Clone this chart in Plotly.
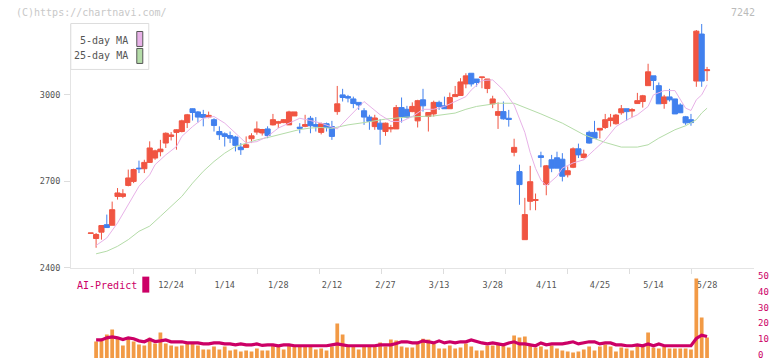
import plotly.graph_objects as go

# ---------------- data ----------------
candle_idx = list(range(-1, 115))
opens = [2520, 2502, 2524, 2550, 2548, 2648, 2648, 2686, 2700, 2746, 2744, 2766, 2781, 2803, 2833, 2856,
         2870, 2873, 2904, 2952, 2941, 2932, 2923, 2914, 2873, 2865, 2859, 2854, 2819, 2818, 2848,
         2871, 2868, 2882, 2896, 2902, 2904, 2896, 2927, 2888, 2891, 2919, 2897, 2870, 2900, 2890,
         2942, 3000, 2994, 2986, 2974, 2945, 2923, 2890, 2902, 2873, 2882, 2882, 2956, 2950, 2942,
         2910, 2983, 2925, 2934, 2974, 2962, 2952, 2994, 2998, 3038, 3075, 3055, 3060, 3022, 2969,
         2929, 2942, 2919, 2801, 2734, 2498, 2631, 2634, 2789, 2689, 2775, 2782, 2777, 2723, 2749,
         2813, 2783, 2870, 2870, 2878, 2887, 2911, 2900, 2938, 2952, 2944, 2970, 2977, 3032, 3066,
         3032, 2970, 2993, 2986, 2965, 2924, 2914, 3048, 3211, 3084]
highs = [2521, 2521, 2547, 2585, 2630, 2677, 2673, 2741, 2744, 2772, 2775, 2839, 2810, 2844, 2870, 2871,
         2881, 2914, 2934, 2953, 2944, 2948, 2942, 2919, 2891, 2870, 2873, 2858, 2833, 2856, 2867,
         2908, 2882, 2891, 2934, 2910, 2916, 2945, 2941, 2902, 2931, 2927, 2923, 2904, 2904, 2910,
         3031, 3021, 3000, 2994, 2974, 2954, 2931, 2931, 2916, 2904, 2896, 2965, 2991, 2962, 2974,
         2983, 3021, 2939, 2980, 2980, 2994, 3008, 3031, 3058, 3075, 3075, 3055, 3062, 3055, 2997,
         2974, 2977, 2948, 2848, 2758, 2643, 2754, 2658, 2803, 2757, 2792, 2803, 2798, 2752, 2818,
         2831, 2810, 2876, 2910, 2884, 2934, 2934, 2934, 2965, 2952, 2954, 3007, 3000, 3108, 3066,
         3043, 3000, 3021, 2986, 2971, 2927, 2934, 3225, 3246, 3097]
lows = [2520, 2470, 2498, 2539, 2548, 2637, 2642, 2683, 2694, 2729, 2729, 2764, 2775, 2787, 2816, 2842,
        2810, 2870, 2885, 2911, 2904, 2891, 2919, 2873, 2844, 2821, 2833, 2804, 2792, 2816, 2833,
        2862, 2859, 2850, 2894, 2885, 2902, 2896, 2927, 2867, 2888, 2867, 2873, 2863, 2873, 2844,
        2931, 2977, 2974, 2954, 2948, 2896, 2879, 2879, 2827, 2858, 2870, 2882, 2904, 2919, 2940,
        2887, 2942, 2873, 2925, 2948, 2952, 2952, 2994, 2998, 3023, 3029, 3029, 3023, 3006, 2954,
        2882, 2914, 2890, 2787, 2619, 2498, 2600, 2600, 2749, 2652, 2732, 2746, 2700, 2714, 2746,
        2781, 2780, 2831, 2848, 2849, 2882, 2890, 2897, 2931, 2911, 2922, 2970, 2956, 3032, 3017,
        2969, 2952, 2977, 2934, 2937, 2896, 2893, 3028, 3028, 3048]
closes = [2521, 2516, 2547, 2540, 2602, 2660, 2657, 2712, 2741, 2744, 2766, 2816, 2806, 2812, 2867, 2861,
          2879, 2910, 2931, 2939, 2923, 2922, 2929, 2894, 2862, 2856, 2850, 2825, 2810, 2827, 2858,
          2882, 2880, 2859, 2914, 2907, 2914, 2941, 2941, 2884, 2897, 2893, 2891, 2900, 2887, 2856,
          2969, 2991, 2989, 2970, 2965, 2923, 2908, 2920, 2881, 2902, 2887, 2956, 2925, 2922, 2960,
          2980, 2962, 2939, 2974, 2960, 2952, 2991, 3001, 3045, 3066, 3038, 3043, 3062, 3055, 2986,
          2942, 2917, 2915, 2818, 2689, 2585, 2699, 2637, 2783, 2754, 2746, 2746, 2718, 2737, 2813,
          2792, 2795, 2833, 2850, 2884, 2914, 2920, 2930, 2952, 2942, 2949, 2980, 2997, 3080, 3050,
          2969, 2993, 2983, 2934, 2938, 2903, 2904, 3221, 3048, 3087]

bar_idx = list(range(0, 115))
volume = [10.4, 11.4, 14.8, 17.9, 12.0, 7.9, 13.1, 10.4, 8.5, 7.9, 12.7, 9.1, 16.0, 9.1, 7.9, 7.2, 7.9,
          8.9, 8.9, 7.9, 5.3, 5.3, 7.2, 5.3, 7.2, 4.7, 5.3, 4.1, 4.7,
          4.1, 6.0, 4.7, 4.7, 7.9, 7.2, 5.3, 7.9, 7.2, 7.2, 7.2, 7.2, 5.3, 6.0, 4.7, 7.2, 21.7, 14.8,
          7.2, 7.2, 5.3, 7.2, 7.2, 7.2, 9.7, 7.2, 11.6, 11.0,
          7.2, 6.6, 6.6, 9.1, 12.2, 11.6, 9.1, 6.0, 6.0, 7.9, 6.0, 6.6, 9.1, 7.2, 4.7, 4.7, 7.9, 7.9,
          9.1, 7.9, 6.6, 14.2, 12.9, 13.5, 7.9, 6.6, 7.2, 5.3, 7.9,
          6.0, 4.7, 4.1, 3.5, 4.1, 5.3, 7.2, 4.7, 7.2, 8.5, 7.2, 4.1, 6.6, 6.0, 4.7, 7.9, 7.2, 16.0,
          6.6, 6.0, 7.2, 6.0, 6.0, 6.0, 6.0, 5.3, 50.0, 25.5, 12.9]
ai_predict = [11.4, 11.4, 12.7, 13.3, 12.7, 11.6, 12.7, 12.1, 10.8, 10.2, 11.8, 10.4, 10.8, 11.4, 10.2,
              10.2, 10.2, 9.5, 9.5, 9.5, 8.9, 8.9, 9.5, 9.5, 8.9, 8.9, 8.3, 8.9, 8.3,
              8.3, 8.9, 7.9, 8.3, 8.3, 7.7, 8.3, 8.3, 7.7, 7.7, 7.7, 7.7, 7.7, 7.7, 7.7, 8.3, 8.9, 8.3,
              7.7, 7.7, 7.7, 7.7, 7.7, 7.7, 8.3, 8.3, 8.3, 9.1,
              10.2, 10.2, 9.5, 9.5, 10.8, 10.2, 9.5, 10.8, 9.5, 10.2, 9.5, 10.2, 10.2, 11.4, 10.2, 9.5,
              8.9, 9.5, 8.9, 8.3, 9.5, 10.2, 8.9, 8.9, 8.3, 7.7, 9.5, 8.3, 8.9,
              8.9, 8.9, 9.5, 10.2, 8.9, 9.5, 10.2, 10.2, 8.9, 9.5, 9.5, 8.3, 8.3, 7.7, 7.7, 8.3, 7.7,
              8.9, 7.7, 8.9, 7.7, 7.7, 7.7, 7.7, 7.7, 7.7, 12.3, 14.4, 13.5]

ma5_idx = [0, 2, 4, 6, 8, 10, 11, 13, 15, 16, 18, 20, 22, 24, 26, 28, 30, 32, 34, 36, 38, 40, 42, 45,
           47, 50, 53, 55, 57, 59, 61, 63, 65, 67, 69, 70, 72, 74, 76, 78, 79, 80, 81, 82, 83, 84, 86,
           87, 89, 91, 93, 95, 97, 99, 101, 103, 104, 106, 108, 109, 110, 111, 112, 113, 114]
ma5 = [2478, 2504, 2556, 2619, 2683, 2723, 2758, 2792, 2821, 2856, 2890, 2919, 2925, 2902, 2867, 2833,
       2838, 2856, 2885, 2902, 2919, 2911, 2902, 2882, 2919, 2977, 2931, 2908, 2908, 2925, 2950, 2950,
       2960, 2977, 2994, 3017, 3050, 3052, 3017, 2965, 2920, 2870, 2800, 2745, 2705, 2685, 2718, 2746,
       2764, 2775, 2810, 2844, 2890, 2913, 2931, 2960, 3000, 3015, 3015, 2983, 2954, 2946, 2983, 3000, 3035]
ma25_idx = [0, 2, 4, 6, 8, 10, 12, 14, 16, 18, 20, 22, 24, 26, 28, 30, 32, 34, 36, 38, 40, 42, 44, 47,
            50, 54, 58, 63, 67, 69, 71, 73, 75, 78, 81, 83, 87, 91, 95, 98, 101, 103, 105, 108, 110,
            112, 113, 114]
ma25 = [2449, 2458, 2475, 2498, 2527, 2545, 2579, 2614, 2648, 2694, 2735, 2769, 2798, 2821, 2833, 2844,
        2852, 2862, 2870, 2880, 2885, 2887, 2884, 2896, 2904, 2916, 2923, 2927, 2937, 2950, 2960, 2965,
        2971, 2971, 2950, 2934, 2902, 2862, 2835, 2819, 2819, 2827, 2850, 2879, 2893, 2914, 2937, 2954]

label_idx = [14, 24, 34, 44, 54, 64, 74, 84, 94, 104, 114]
label_text = ["12/24", "1/14", "1/28", "2/12", "2/27", "3/13", "3/28", "4/11", "4/25", "5/14", "5/28"]
price_ticks = [2400, 2700, 3000]
vol_ticks = [0, 10, 20, 30, 40, 50]

# ---------------- styling / geometry ----------------
W, H = 772, 361
PL, PR, PT, PB = 70.7, 753.8, 24.0, 358.5
RED, BLUE = "#f05542", "#4180ee"
PINK, GREEN = "#e8b2e8", "#b4dca8"
ORANGE, MAGENTA = "#f29a45", "#cc0066"
MONO = "DejaVu Sans Mono"


def px2x(px):
    return (px - PL) / (PR - PL)


def py2y(py):
    return (PB - py) / (PB - PT)


price_dom = [py2y(268.3), 1.0]
vol_dom = [0.0, py2y(270.0)]
price_range = [2400, 3000 + (95 - PT) * (600 / 173.3)]
vol_range = [0, (PB - 270.0) / ((PB - 279.0) / 50)]
x_range = [(PL - 95.8) / 5.36, (PR - 95.8) / 5.36]

fig = go.Figure()

fig.add_trace(go.Scatter(x=ma25_idx, y=ma25, mode="lines", line=dict(color=GREEN, width=1),
                         hoverinfo="skip", showlegend=False))
fig.add_trace(go.Scatter(x=ma5_idx, y=ma5, mode="lines", line=dict(color=PINK, width=1),
                         hoverinfo="skip", showlegend=False))
fig.add_trace(go.Candlestick(
    x=candle_idx, open=opens, high=highs, low=lows, close=closes,
    increasing=dict(line=dict(color=RED, width=1), fillcolor=RED),
    decreasing=dict(line=dict(color=BLUE, width=1), fillcolor=BLUE),
    whiskerwidth=0, showlegend=False))

# grid tick marks along bottom of price chart
fig.add_trace(go.Scatter(x=[0, 11], y=[2400, 2400], xaxis="x3", yaxis="y", mode="markers",
                         marker=dict(opacity=0), hoverinfo="skip", showlegend=False))

fig.add_trace(go.Bar(x=bar_idx, y=volume, xaxis="x2", yaxis="y2", marker=dict(color=ORANGE, line=dict(width=0)),
                     width=0.7, showlegend=False, hoverinfo="skip"))
fig.add_trace(go.Scatter(x=bar_idx, y=ai_predict, xaxis="x2", yaxis="y2", mode="lines",
                         line=dict(color=MAGENTA, width=3.2), showlegend=False, hoverinfo="skip"))

fig.update_layout(
    width=W, height=H,
    margin=dict(l=PL, r=W - PR, t=PT, b=H - PB, pad=0, autoexpand=False),
    paper_bgcolor="white", plot_bgcolor="white",
    boxgap=0.04, boxgroupgap=0.0,
    showlegend=False,
    font=dict(family=MONO, color="#555"),
    xaxis=dict(domain=[0, 1], range=x_range, anchor="y", rangeslider=dict(visible=False),
               automargin=False,
               showgrid=False, zeroline=False, showline=True, linecolor="#e4e4e4", linewidth=1,
               tickmode="array", tickvals=label_idx, ticktext=label_text, ticks="",
               ticklabelstandoff=9, tickfont=dict(family=MONO, size=8.5, color="#555")),
    xaxis3=dict(domain=[0, 1], range=[0, 11], overlaying="x", anchor="y", side="bottom",
                automargin=False,
                tickmode="array", tickvals=list(range(1, 11)), ticks="outside", ticklen=5,
                tickcolor="#dddddd", showticklabels=False, showgrid=False, showline=False, zeroline=False),
    yaxis=dict(domain=price_dom, range=price_range, showgrid=False, zeroline=False,
               automargin=False,
               showline=True, linecolor="#e4e4e4", linewidth=1,
               tickmode="array", tickvals=price_ticks, ticks="outside", ticklen=6, tickcolor="#dddddd",
               tickfont=dict(family=MONO, size=8.5, color="#555"), ticklabelstandoff=2),
    xaxis2=dict(domain=[0, 1], range=x_range, anchor="y2", matches="x", showgrid=False,
                automargin=False,
                zeroline=False, showline=False, showticklabels=False, ticks=""),
    yaxis2=dict(domain=vol_dom, range=vol_range, side="right", anchor="x2", showgrid=False,
                automargin=False, ticklabeloverflow="allow", ticklabelshift=-3,
                zeroline=False, showline=False, tickmode="array", tickvals=vol_ticks, ticks="",
                tickfont=dict(family=MONO, size=9, color=MAGENTA), ticklabelstandoff=3),
)

anns = [
    dict(text="(C)https://chartnavi.com/", x=px2x(14), y=py2y(12), xanchor="left", yanchor="middle",
         font=dict(family=MONO, size=10, color="#c8c8c8")),
    dict(text="7242", x=px2x(757), y=py2y(12), xanchor="right", yanchor="middle",
         font=dict(family=MONO, size=10, color="#bbbbbb")),
    dict(text="5-day MA", x=px2x(130), y=py2y(40.5), xanchor="right", yanchor="middle",
         font=dict(family=MONO, size=10, color="#555")),
    dict(text="25-day MA", x=px2x(130), y=py2y(55.5), xanchor="right", yanchor="middle",
         font=dict(family=MONO, size=10, color="#555")),
    dict(text="AI-Predict", x=px2x(75), y=py2y(286), xanchor="left", yanchor="middle",
         font=dict(family=MONO, size=10, color=MAGENTA)),
]
for a in anns:
    a.update(xref="paper", yref="paper", showarrow=False)
fig.update_layout(annotations=anns)

shapes = [
    dict(type="rect", x0=px2x(70.5), x1=px2x(148.5), y0=py2y(23.5), y1=py2y(69.5),
         line=dict(color="#dddddd", width=1), fillcolor="white"),
    dict(type="rect", x0=px2x(136.5), x1=px2x(142.5), y0=py2y(31.5), y1=py2y(46.5),
         line=dict(color="#555555", width=1), fillcolor=PINK),
    dict(type="rect", x0=px2x(136.5), x1=px2x(142.5), y0=py2y(48.5), y1=py2y(63.5),
         line=dict(color="#555555", width=1), fillcolor=GREEN),
    dict(type="rect", x0=px2x(142), x1=px2x(149), y0=py2y(277), y1=py2y(293),
         line=dict(width=0), fillcolor=MAGENTA),
]
for s in shapes:
    s.update(xref="paper", yref="paper")
fig.update_layout(shapes=shapes)

fig.write_html("out.html", config={"displayModeBar": False},
               post_script="document.body.style.margin='0';document.body.style.overflow='hidden';")
